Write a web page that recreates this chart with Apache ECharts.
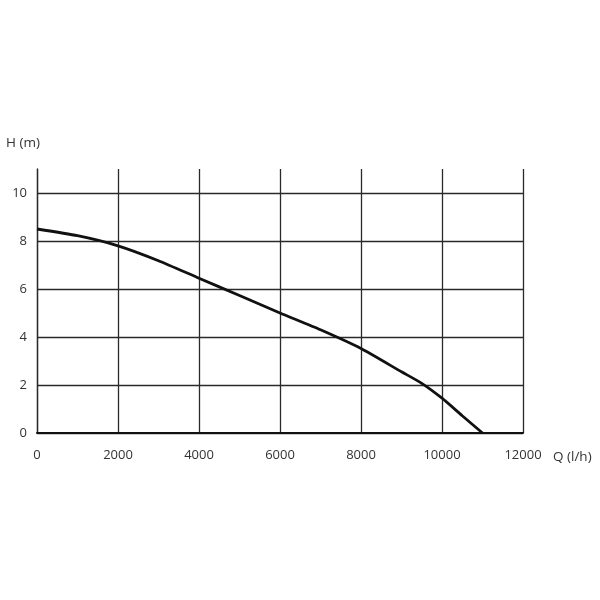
<!DOCTYPE html>
<html>
<head>
<meta charset="utf-8">
<title>H-Q curve</title>
<script src="https://cdn.jsdelivr.net/npm/echarts@6/dist/echarts.min.js"></script>
<style>
  html, body { margin: 0; padding: 0; background: #fff; }
  #chart { width: 600px; height: 600px; }
</style>
</head>
<body>
<div id="chart"></div>
<script>
// flow Q (l/h) and head H (m)
var flow = [0, 1000, 2000, 3000, 4000, 5000, 6000, 7000, 8000, 9000, 9500, 10000, 10500, 11000];
var head = [8.5, 8.22, 7.8, 7.18, 6.45, 5.73, 5.0, 4.3, 3.52, 2.55, 2.07, 1.45, 0.72, 0];

var points = flow.map(function (q, i) { return [q, head[i]]; });

var font = '"Open Sans", sans-serif';
var gridColor = '#2a2a2a';

var chart = echarts.init(document.getElementById('chart'));
chart.setOption({
    backgroundColor: '#fff',
    animation: false,
    grid: { left: 37, right: 77, top: 169, bottom: 167 },
    xAxis: {
        type: 'value',
        min: 0,
        max: 12000,
        interval: 2000,
        name: 'Q (l/h)',
        nameLocation: 'end',
        nameGap: 30,
        nameTextStyle: { color: '#333', fontSize: 13.5, fontFamily: font, align: 'left', verticalAlign: 'top', padding: [17, 0, 0, 0] },
        axisLine: { show: true, lineStyle: { color: '#111', width: 2 } },
        axisTick: { show: false },
        axisLabel: {
            color: '#333', fontSize: 13, fontFamily: font, margin: 16,
            formatter: function (v) { return String(v); }
        },
        splitLine: { show: true, lineStyle: { color: gridColor, width: 1.3 } }
    },
    yAxis: {
        type: 'value',
        min: 0,
        max: 11,
        interval: 2,
        name: 'H (m)',
        nameLocation: 'end',
        nameGap: 19,
        nameTextStyle: { color: '#333', fontSize: 13.5, fontFamily: font, align: 'right', padding: [0, -3, 0, 0] },
        axisLine: { show: true, lineStyle: { color: gridColor, width: 1.3 } },
        axisTick: { show: false },
        axisLabel: {
            color: '#333', fontSize: 13, fontFamily: font, margin: 10,
            formatter: function (v) { return v > 10 ? '' : String(v); }
        },
        splitLine: {
            show: true,
            lineStyle: {
                color: [gridColor, gridColor, gridColor, gridColor, gridColor, gridColor, 'rgba(0,0,0,0)'],
                width: 1.3
            }
        }
    },
    series: [{
        type: 'line',
        data: points,
        smooth: 0.2,
        showSymbol: false,
        lineStyle: { color: '#111', width: 2.8 }
    }]
});
</script>
</body>
</html>
